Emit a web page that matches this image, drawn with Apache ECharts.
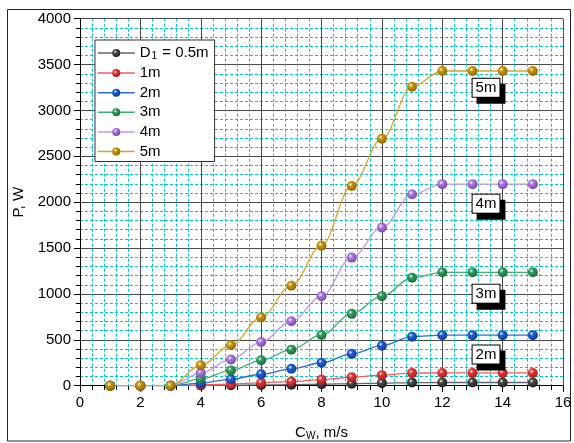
<!DOCTYPE html>
<html><head><meta charset="utf-8">
<script src="https://cdn.jsdelivr.net/npm/echarts@6/dist/echarts.min.js"></script>
<style>html,body{margin:0;padding:0;background:#fff}#c{width:574px;height:443px}</style>
</head><body><div id="c"></div>
<script>
const speeds = [1,2,3,4,5,6,7,8,9,10,11,12,13,14,15];
const seriesNames = ['D1 = 0.5m','1m','2m','3m','4m','5m'];
const p05 = [0,0,0,2,5,8,11,16,22,28,34,35,35,35,35];
const p1  = [0,0,0,8,18,31,45,66,92,115,138,139,139,139,139];
const p2  = [0,0,0,28,70,125,184,250,347,436,534,551,551,551,551];
const p3  = [0,0,0,74,167,277,393,553,783,976,1177,1236,1236,1236,1236];
const p4  = [0,0,0,137,286,476,702,974,1396,1725,2086,2197,2197,2197,2197];
const p5  = [0,0,0,222,440,745,1090,1526,2177,2692,3259,3430,3430,3430,3430];
const allValues = [p05,p1,p2,p3,p4,p5];
const xTicks = [0,2,4,6,8,10,12,14,16];
const yTicks = [0,500,1000,1500,2000,2500,3000,3500,4000];
const labelBoxes = [null,null,{t:'2m',y:340},{t:'3m',y:1003},{t:'4m',y:1984},{t:'5m',y:3247}];

const markerColors = ['#4a4a4a','#e53b3b','#1e62d8','#31a05e','#b07be0','#c9980c'];
const lineColors   = ['#666666','#f25c5c','#2a6ee0','#3cb371','#c494f0','#d8a52a'];
const darkColors   = ['#1a1a1a','#a01818','#0c3a90','#176838','#7444a8','#8a6400'];

function sphere(i){
  return {type:'radial',x:0.38,y:0.35,r:0.7,colorStops:[
    {offset:0,color:'#ffffff'},{offset:0.28,color:markerColors[i]},{offset:1,color:darkColors[i]}]};
}

const chart = echarts.init(document.getElementById('c'));
const series = seriesNames.map((name,i)=>{
  const s = {
    name, type:'line', xAxisIndex:0, yAxisIndex:0,
    data: speeds.map((x,k)=>[x, allValues[i][k]]),
    smooth: 0.35, smoothMonotone:'x',
    symbol:'circle', symbolSize:10,
    itemStyle:{color:sphere(i), borderWidth:0},
    lineStyle:{color:lineColors[i], width:1.3},
    emphasis:{disabled:true},
    animation:false, z: 3+i
  };
  const lb = labelBoxes[i];
  if(lb){
    s.markPoint = {
      symbol:'circle', symbolSize:1, animation:false, silent:true,
      itemStyle:{color:'rgba(0,0,0,0)'},
      data:[{coord:[13.45, lb.y], value:lb.t}],
      label:{show:true, position:'inside', formatter:lb.t, color:'#000',
        fontFamily:'Liberation Sans, Arial, sans-serif', fontSize:15,
        backgroundColor:'#fff', borderColor:'#000', borderWidth:1,
        padding:[2,3,1,3], shadowColor:'#000', shadowOffsetX:5, shadowOffsetY:6, shadowBlur:0}
    };
  }
  return s;
});

const font = 'Liberation Sans, Arial, sans-serif';
chart.setOption({
  backgroundColor:'#fff',
  animation:false,
  grid:{left:80, right:11, top:18.7, bottom:57.3, containLabel:false, outerBoundsMode:'none'},
  legend:{
    show:true, left:95, top:40, orient:'vertical',
    backgroundColor:'#fff', borderColor:'#333', borderWidth:1,
    padding:[5,6,2,2], itemGap:3.6, itemWidth:37, itemHeight:10,
    data: seriesNames.map((n,i)=>({name:n, itemStyle:{color:sphere(i)}, lineStyle:{color:lineColors[i], width:1.5}})),
    textStyle:{fontFamily:font, fontSize:15, color:'#000', lineHeight:16,
      rich:{n:{fontFamily:font,fontSize:15,color:'#000'}, s:{fontFamily:font,fontSize:10,color:'#000',padding:[7,1,0,1]}}},
    formatter:function(n){ return n==='D1 = 0.5m' ? '{n|D}{s|1}{n| = 0.5m}' : n; }
  },
  xAxis:[{
    type:'value', min:0, max:16, interval:2, position:'bottom',
    name:'{n|C}{s|W}{n|, m/s}', nameLocation:'middle', nameGap:38,
    nameTextStyle:{fontFamily:font, fontSize:15, color:'#000',
      rich:{n:{fontFamily:font,fontSize:15,color:'#000'}, s:{fontFamily:font,fontSize:10,color:'#000',padding:[8,0,0,0]}}},
    axisLine:{show:true, onZero:false, lineStyle:{color:'#000', width:1}},
    axisTick:{show:true, inside:false, length:6, lineStyle:{color:'#000'}},
    minorTick:{show:true, splitNumber:5, length:4, lineStyle:{color:'#000'}},
    axisLabel:{fontFamily:font, fontSize:15, color:'#000', margin:10,
      formatter:v=> xTicks.includes(v)? String(v):''},
    splitLine:{show:true, lineStyle:{color:'#4a4a4a', width:1}},
    minorSplitLine:{show:true, lineStyle:{color:'#00c8c8', width:1, type:[3,2]}}
  },{
    type:'value', min:0, max:16, interval:2, position:'top',
    axisLine:{show:true, lineStyle:{color:'#000'}},
    axisTick:{show:true, inside:true, length:6, lineStyle:{color:'#000'}},
    minorTick:{show:true, splitNumber:5, length:4, lineStyle:{color:'#000'}},
    axisLabel:{show:false}, splitLine:{show:false}
  }],
  yAxis:[{
    type:'value', min:0, max:4000, interval:500, position:'left',
    name:'P, W', nameLocation:'middle', nameGap:54, nameRotate:90,
    nameTextStyle:{fontFamily:font, fontSize:15, color:'#000'},
    axisLine:{show:true, onZero:false, lineStyle:{color:'#000', width:1}},
    axisTick:{show:true, inside:false, length:6, lineStyle:{color:'#000'}},
    minorTick:{show:true, splitNumber:5, length:4, lineStyle:{color:'#000'}},
    axisLabel:{fontFamily:font, fontSize:15, color:'#000', margin:9,
      formatter:v=> yTicks.includes(v)? String(v):''},
    splitLine:{show:true, lineStyle:{color:'#4a4a4a', width:1}},
    minorSplitLine:{show:true, lineStyle:{color:'#00c8c8', width:1, type:[3,2]}}
  },{
    type:'value', min:0, max:4000, interval:500, position:'right',
    axisLine:{show:true, lineStyle:{color:'#000'}},
    axisTick:{show:true, inside:true, length:6, lineStyle:{color:'#000'}},
    minorTick:{show:true, splitNumber:5, length:4, lineStyle:{color:'#000'}},
    axisLabel:{show:false}, splitLine:{show:false}
  }],
  graphic:[{type:'rect', shape:{x:7.5, y:9.5, width:563, height:431.5},
    style:{fill:'none', stroke:'#222', lineWidth:1}, silent:true, z:-1}],
  series
});
</script></body></html>
